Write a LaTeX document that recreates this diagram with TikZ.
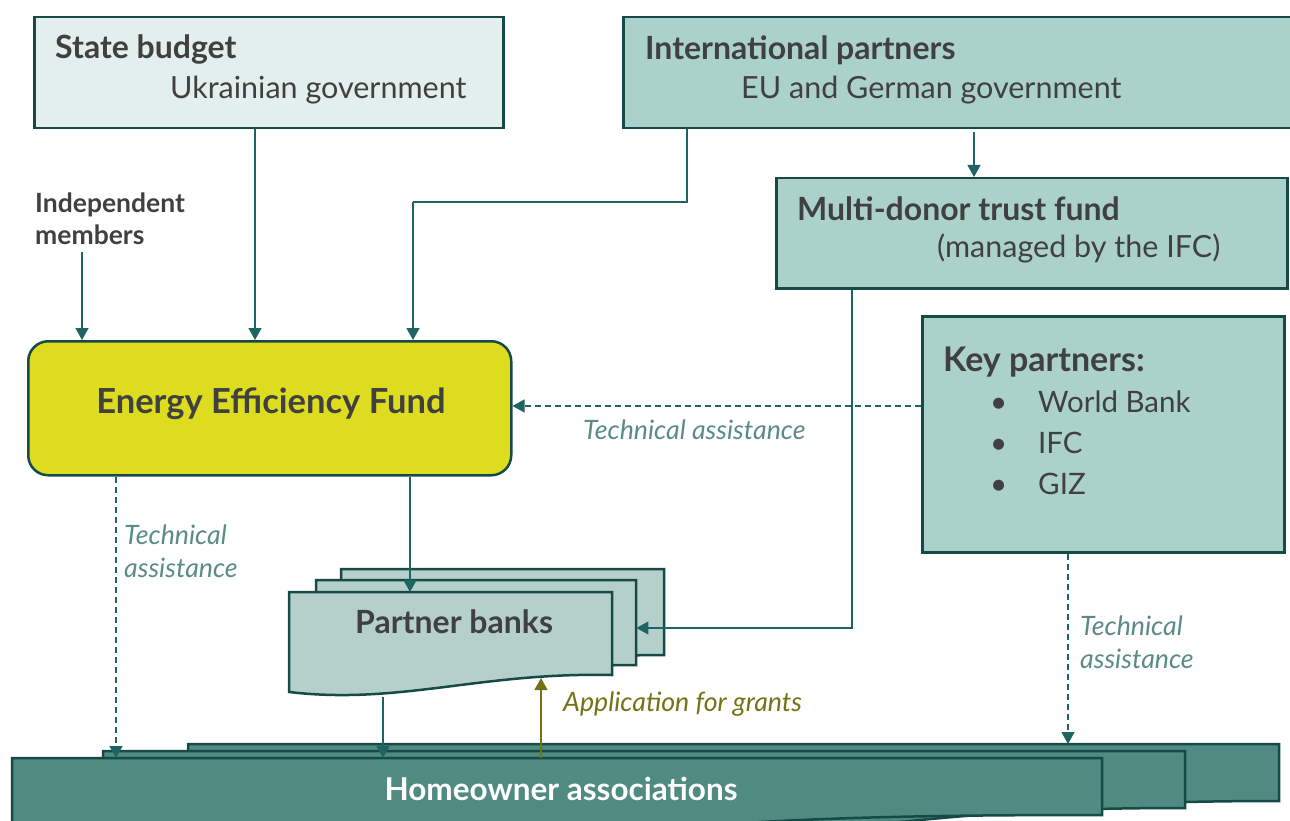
\documentclass[tikz,border=0pt]{standalone}
\usepackage{fontspec}
\setmainfont{Lato}
\usetikzlibrary{arrows.meta}
\definecolor{edge}{HTML}{164A47}
\definecolor{linec}{HTML}{1D6462}
\definecolor{txt}{HTML}{404040}
\definecolor{tacol}{HTML}{5B8C84}
\definecolor{appcol}{HTML}{737316}
\definecolor{statefill}{HTML}{E3EFEC}
\definecolor{partfill}{HTML}{ABD2CA}
\definecolor{eeffill}{HTML}{DDDC1F}
\definecolor{bankfill}{HTML}{B5CFCA}
\definecolor{hoafill}{HTML}{4F8B80}
\begin{document}
\begin{tikzpicture}[x=1pt,y=-1pt,
  box/.style={draw=edge, line width=2.5pt, rectangle, inner sep=0pt, anchor=north west},
  ghost/.style={rectangle, inner sep=0pt, anchor=north west},
  conn/.style={draw=linec, line width=1.3pt, -{Triangle[length=12pt,width=13pt,fill=linec]}},
  dconn/.style={conn, dash pattern=on 6pt off 4pt},
  appconn/.style={draw=appcol, line width=1.3pt, -{Triangle[length=12pt,width=13pt,fill=appcol]}},
  title/.style={font=\bfseries\fontsize{32}{36}\selectfont, text=txt, anchor=base west, inner sep=0pt},
  sub/.style={font=\fontsize{30.5}{36}\selectfont, text=txt, anchor=base west, inner sep=0pt},
  talabel/.style={font=\itshape\fontsize{26.7}{33}\selectfont, text=tacol, anchor=base west, inner sep=0pt, align=left},
]
\useasboundingbox (0,0) rectangle (1290,821);
\clip (0,0) rectangle (1290,821);

% ---- top boxes
\node[box, fill=statefill, minimum width=469pt, minimum height=111pt] (state) at (33,16) {};
\node[title] (stateT) at (55,59) {State budget};
\node[sub] (stateS) at (170,99) {Ukrainian government};

\node[box, fill=partfill, minimum width=700pt, minimum height=111pt] (intl) at (622,16) {};
\node[title] (intlT) at (645,60) {International partners};
\node[sub] (intlS) at (741,99) {EU and German government};

\node[box, fill=partfill, minimum width=511pt, minimum height=110pt] (mdtf) at (775,177) {};
\node[title] (mdtfT) at (797,220) {Multi-donor trust fund};
\node[sub] (mdtfS) at (937,258) {(managed by the IFC)};

% ---- independent members (anchor is the baseline of the last line)
\node[font=\bfseries\fontsize{26.5}{32}\selectfont, text=txt, anchor=base west, inner sep=0pt, align=left] (indep) at (35,244) {Independent\\members};

% ---- energy efficiency fund
\node[box, fill=eeffill, rounded corners=20pt, minimum width=483pt, minimum height=134pt] (eef) at (27,340) {};
\node[font=\bfseries\fontsize{34.5}{40}\selectfont, text=txt, anchor=base, inner sep=0pt] (eefT) at (271,413) {Energy Efficiency Fund};

% ---- key partners
\node[box, fill=partfill, minimum width=362pt, minimum height=236pt] (key) at (921,315) {};
\node[font=\bfseries\fontsize{34}{40}\selectfont, text=txt, anchor=base west, inner sep=0pt] (keyT) at (943,371) {Key partners:};
\node[font=\fontsize{29.5}{41}\selectfont, text=txt, anchor=base west, inner sep=0pt, align=left] (keyL) at (990,494)
  {\makebox[48pt][l]{•}World Bank\\\makebox[48pt][l]{•}IFC\\\makebox[48pt][l]{•}GIZ};

% ---- partner banks (stacked documents)
\node[ghost, minimum width=323pt, minimum height=86pt] (bankB) at (341,569) {};
\node[ghost, minimum width=320pt, minimum height=85pt] (bankM) at (316,580) {};
\node[ghost, minimum width=323pt, minimum height=100pt] (bankF) at (289,592) {};
\draw[edge, line width=2.5pt, fill=bankfill] (341,569) -- (664,569) -- (664,655)
  .. controls (600,655) and (550,660) .. (500,662) -- (341,662) -- cycle;
\draw[edge, line width=2.5pt, fill=bankfill] (316,580) -- (636,580) -- (636,665)
  .. controls (580,665) and (530,670) .. (480,672) -- (316,672) -- cycle;
\draw[edge, line width=2.5pt, fill=bankfill] (289,592) -- (612,592) -- (612,675)
  .. controls (480,672) and (400,705) .. (289,692) -- cycle;
\node[font=\bfseries\fontsize{32}{36}\selectfont, text=txt, anchor=base west, inner sep=0pt] (banksT) at (355,633) {Partner banks};

% ---- homeowner associations (stacked documents)
\node[ghost, minimum width=1091pt, minimum height=57pt] (hoaB) at (188,744) {};
\node[ghost, minimum width=1082pt, minimum height=57pt] (hoaM) at (103,751) {};
\node[ghost, minimum width=1090pt, minimum height=57pt] (hoaF) at (12,758) {};
\draw[edge, line width=2.5pt, fill=hoafill] (188,744) -- (1279,744) -- (1279,801)
  .. controls (1150,801) and (1080,806) .. (1000,812) -- (188,830) -- cycle;
\draw[edge, line width=2.5pt, fill=hoafill] (103,751) -- (1185,751) -- (1185,808)
  .. controls (1060,808) and (990,813) .. (900,822) -- (103,830) -- cycle;
\draw[edge, line width=2.5pt, fill=hoafill] (12,758) -- (1102,758) -- (1102,815)
  .. controls (900,815) and (760,818) .. (600,835) -- (12,840) -- cycle;
\node[font=\bfseries\fontsize{31.5}{36}\selectfont, text=white, anchor=base, inner sep=0pt] (hoaT) at (561,800) {Homeowner associations};

% ---- connector routing points
\coordinate (xInd) at (82,252);
\coordinate (xState) at (255,0);
\coordinate (xIntl) at (687,0);
\coordinate (bend) at (413,202);
\coordinate (xMdtf) at (974,0);
\coordinate (xTrust) at (852,0);
\coordinate (yBank) at (0,628);
\coordinate (yTA) at (0,406);
\coordinate (xTAl) at (116,0);
\coordinate (xFund) at (410,0);
\coordinate (xLoan) at (383,0);
\coordinate (xApp) at (541,0);
\coordinate (xTAr) at (1068,0);
\coordinate (bankBot) at (383,697);
\coordinate (bankApp) at (541,678);

% ---- connectors
\draw[conn] (xInd) -- (eef.north -| xInd);
\draw[conn] (state.south -| xState) -- (eef.north -| xState);
\draw[conn, -] (intl.south -| xIntl) |- (bend);
\draw[conn] (bend) -- (eef.north -| bend);
\draw[conn] ([yshift=-3pt]intl.south -| xMdtf) -- (mdtf.north -| xMdtf);
\draw[conn] (mdtf.south -| xTrust) |- (bankM.east |- yBank);
\draw[dconn] (key.west |- yTA) -- (eef.east |- yTA);
\draw[dconn] (eef.south -| xTAl) -- (hoaF.north -| xTAl);
\draw[conn] (eef.south -| xFund) -- (bankF.north -| xFund);
\draw[conn] (bankBot) -- (hoaF.north -| xLoan);
\draw[appconn] (hoaF.north -| xApp) -- (bankApp);
\draw[dconn] (key.south -| xTAr) -- (hoaB.north -| xTAr);

% ---- connector labels (two-line labels anchored at the last baseline)
\node[talabel] (taMid) at (583,439) {Technical assistance};
\node[talabel] (taLeft) at (124,577) {Technical\\assistance};
\node[talabel] (taRight) at (1080,668) {Technical\\assistance};
\node[talabel, text=appcol] (appL) at (563,711) {Application for grants};
\end{tikzpicture}
\end{document}
